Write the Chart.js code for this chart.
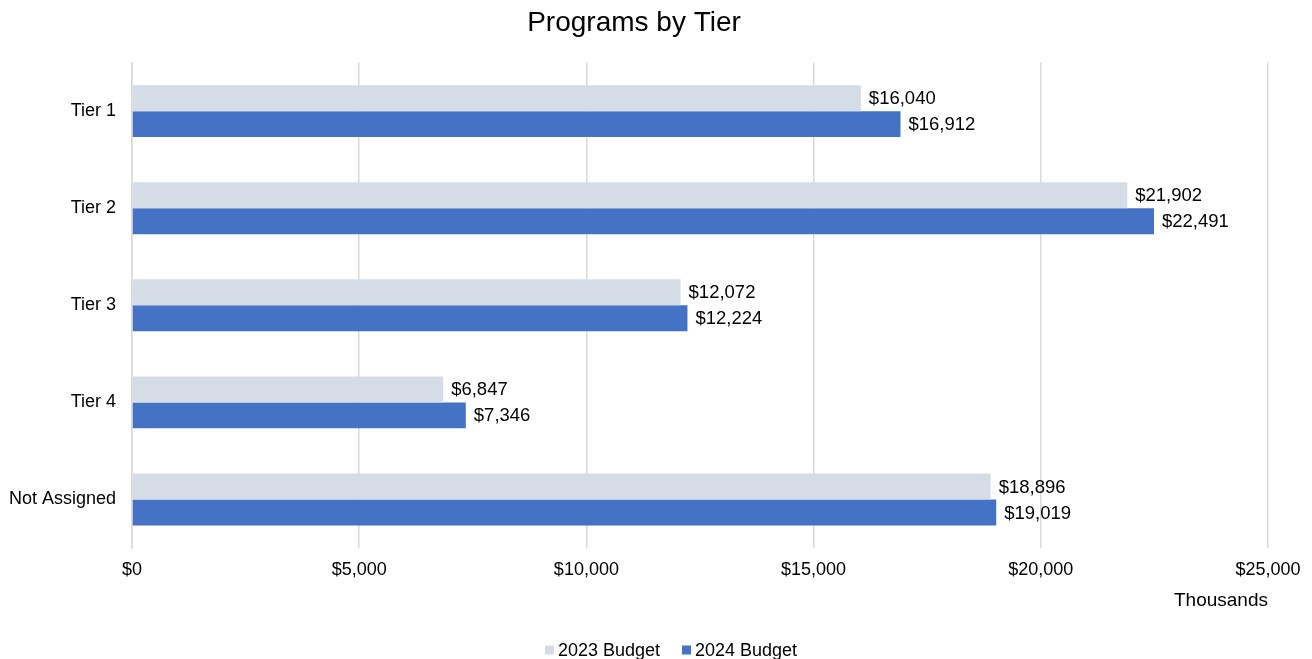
<!DOCTYPE html>
<html><head><meta charset="utf-8">
<script src="https://cdn.jsdelivr.net/npm/chart.js@4/dist/chart.umd.min.js"></script>
<style>html,body{margin:0;padding:0;background:#fff}#w{width:1312px;height:659px}</style>
</head><body><div id="w"><canvas id="c"></canvas></div>
<script>
const categories = ["Tier 1", "Tier 2", "Tier 3", "Tier 4", "Not Assigned"];
const budget2023 = [16040, 21902, 12072, 6847, 18896];
const budget2024 = [16912, 22491, 12224, 7346, 19019];
const seriesNames = ["2023 Budget", "2024 Budget"];
const FONT = "'Liberation Sans', Arial, sans-serif";
const fmt = v => "$" + v.toLocaleString("en-US");

const labelPlugin = {
  id: "barLabels",
  afterDatasetsDraw(chart) {
    const ctx = chart.ctx;
    ctx.save();
    ctx.font = "18.5px " + FONT;
    ctx.fillStyle = "#000";
    ctx.textBaseline = "middle";
    ctx.textAlign = "left";
    chart.data.datasets.forEach((ds, i) => {
      chart.getDatasetMeta(i).data.forEach((bar, j) => {
        ctx.fillText(fmt(ds.data[j]), bar.x + 8, bar.y + 1);
      });
    });
    ctx.restore();
  }
};

// bottom legend drawn from the datasets (compact box-to-text spacing)
const legendPlugin = {
  id: "bottomLegend",
  afterDraw(chart) {
    const ctx = chart.ctx;
    ctx.save();
    ctx.font = "18px " + FONT;
    ctx.textBaseline = "middle";
    ctx.textAlign = "left";
    const box = 9, gapText = 4, gapItem = 22;
    const items = chart.data.datasets.map(ds => ({ label: ds.label, color: ds.backgroundColor, w: ctx.measureText(ds.label).width }));
    const total = items.reduce((s, it) => s + box + gapText + it.w, 0) + gapItem * (items.length - 1);
    let x = 671 - total / 2;
    const y = 650;
    items.forEach(it => {
      ctx.fillStyle = it.color;
      ctx.fillRect(x, y - box / 2, box, box);
      x += box + gapText;
      ctx.fillStyle = "#000";
      ctx.fillText(it.label, x, y + 1);
      x += it.w + gapItem;
    });
    ctx.restore();
  }
};

new Chart(document.getElementById("c"), {
  type: "bar",
  data: {
    labels: categories,
    datasets: [
      { label: seriesNames[0], data: budget2023, backgroundColor: "#D6DCE5" },
      { label: seriesNames[1], data: budget2024, backgroundColor: "#4472C4" }
    ]
  },
  plugins: [labelPlugin, legendPlugin],
  options: {
    indexAxis: "y",
    responsive: true,
    maintainAspectRatio: false,
    animation: false,
    layout: { padding: { left: 0, right: 44, top: 4, bottom: 47 } },
    datasets: { bar: { categoryPercentage: 0.535, barPercentage: 1.0 } },
    plugins: {
      title: { display: true, text: "Programs by Tier", color: "#000",
               font: { family: FONT, size: 28, weight: "normal" }, padding: { top: 2, bottom: 23 } },
      legend: { display: false },
      tooltip: { enabled: false }
    },
    scales: {
      x: {
        min: 0, max: 25000,
        ticks: { stepSize: 5000, color: "#000", font: { family: FONT, size: 18 }, padding: 11, callback: v => fmt(v) },
        grid: { color: "#D9D9D9", lineWidth: 1.5, drawTicks: false },
        border: { display: false },
        title: { display: true, text: "Thousands", align: "end", color: "#000",
                 font: { family: FONT, size: 19 }, padding: { top: 8, bottom: 0 } },
        afterFit(s) { s.height = 64; }
      },
      y: {
        ticks: { color: "#000", font: { family: FONT, size: 18 }, padding: 8 },
        grid: { display: false },
        border: { display: true, color: "#D9D9D9", width: 1.5 },
        afterFit(s) { s.width = 132; }
      }
    }
  }
});
</script></body></html>
